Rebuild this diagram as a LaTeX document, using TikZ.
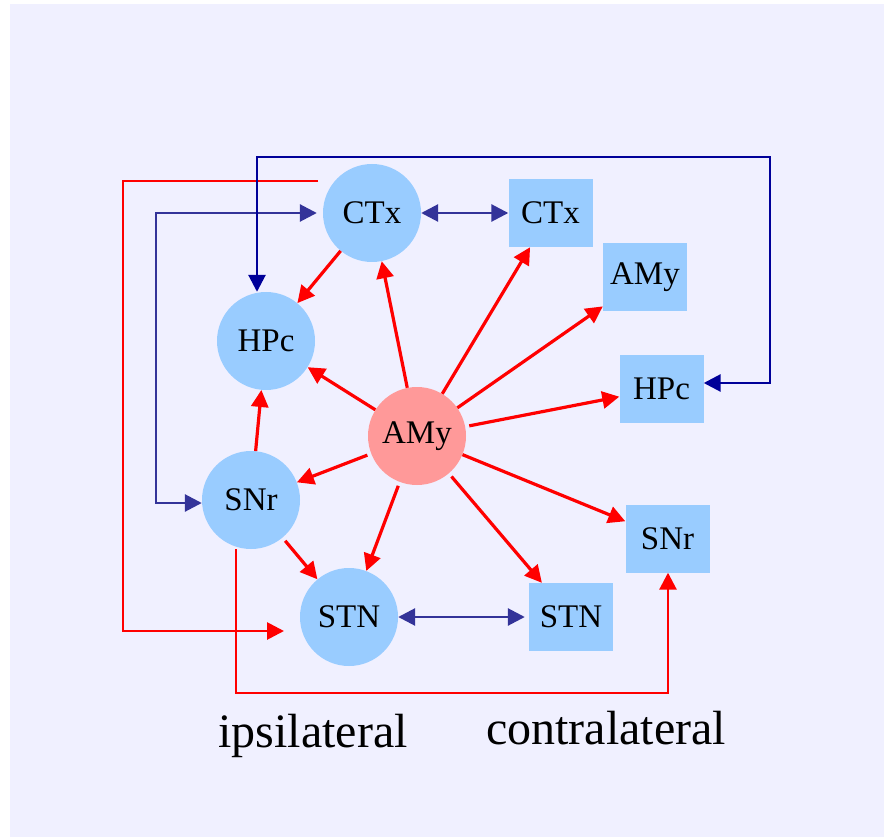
\documentclass[tikz,border=0pt]{standalone}
\usepackage{fontspec}
\setmainfont{Liberation Serif}
\usetikzlibrary{arrows.meta}
\definecolor{bgc}{HTML}{F0F0FF}
\definecolor{nodeblue}{HTML}{99CCFF}
\definecolor{nodepink}{HTML}{FF9999}
\definecolor{linkblue}{HTML}{333399}
\definecolor{linknavy}{HTML}{000099}
\definecolor{linkred}{HTML}{FF0000}
\begin{document}
\begin{tikzpicture}[x=1pt,y=-1pt,
  circ/.style={circle,fill=nodeblue,minimum size=98pt,inner sep=0pt,font=\fontsize{33}{33}\selectfont},
  amyc/.style={circ,fill=nodepink},
  sq/.style={rectangle,fill=nodeblue,minimum width=84pt,minimum height=68pt,inner sep=0pt,font=\fontsize{33}{33}\selectfont},
  redarr/.style={draw=linkred,line width=3.2pt,-{Triangle[length=17pt,width=17pt]}},
  bluearr/.style={draw=linkblue,line width=2.8pt,{Triangle[length=17pt,width=17pt]}-{Triangle[length=17pt,width=17pt]}},
  navyarr/.style={draw=linknavy,line width=2.8pt,{Triangle[length=17pt,width=17pt]}-{Triangle[length=17pt,width=17pt]}},
  redline/.style={draw=linkred,line width=2.8pt,-{Triangle[length=17pt,width=17pt]}},
  lbl/.style={anchor=base,font=\fontsize{48}{48}\selectfont,inner sep=0pt}
]
\useasboundingbox (0,0) rectangle (884,837);
\fill[bgc] (10,4) rectangle (884,837);

% circles (ipsilateral)
\node[circ] (ctx) at (372,213) {CTx};
\node[circ] (hpc) at (266,341) {HPc};
\node[circ] (snr) at (251,500) {SNr};
\node[circ] (stn) at (349,617) {STN};
\node[amyc] (amy) at (417,436) {AMy};

% squares (contralateral)
\node[sq] (ctx2) at (550.5,213) {CTx};
\node[sq] (amy2) at (645,277) {AMy};
\node[sq] (hpc2) at (661.5,388.5) {HPc};
\node[sq] (snr2) at (667.5,538.5) {SNr};
\node[sq] (stn2) at (571,617) {STN};

% labels
\node[lbl] (ipsi) at (313,747) {ipsilateral};
\node[lbl] (contra) at (606,744) {contralateral};

% red arrows from AMy
\draw[redarr] (amy) -- (ctx);
\draw[redarr] (amy) -- (hpc);
\draw[redarr, shorten <=4pt] (amy) -- (snr);
\draw[redarr, shorten <=4pt] (amy) -- (stn);
\draw[redarr] (amy) -- (ctx2);
\draw[redarr] (amy) -- (amy2);
\draw[redarr, shorten <=4pt] (amy) -- (hpc2);
\draw[redarr] (amy) -- (snr2);
\draw[redarr, shorten <=4pt] (amy) -- (stn2);
\draw[redarr] (ctx) -- (hpc);
\draw[redarr] (snr) -- (hpc);
\draw[redarr, shorten <=4pt] (snr) -- (stn);

% red loop lines
\coordinate (rstart) at (318,181);
\coordinate (rend) at (284,631);
\draw[redline] (rstart) -- (123,181) -- (123,631) -- (rend);
\draw[redline] (snr.south -| 236,0) -- (236,693) -- (668,693) -- (snr2.south -| 668,0);

% blue links
\draw[bluearr] (ctx) -- (ctx2);
\draw[bluearr, shorten >=4pt] (stn) -- (stn2);
\draw[bluearr, shorten <=6pt] (ctx.west) -- (156,213) -- (156,503) -- (snr.west |- 0,503);
\draw[navyarr] (hpc.north -| 257,0) -- (257,157) -- (770,157) -- (770,383) -- (hpc2.east |- 0,383);
\end{tikzpicture}
\end{document}
